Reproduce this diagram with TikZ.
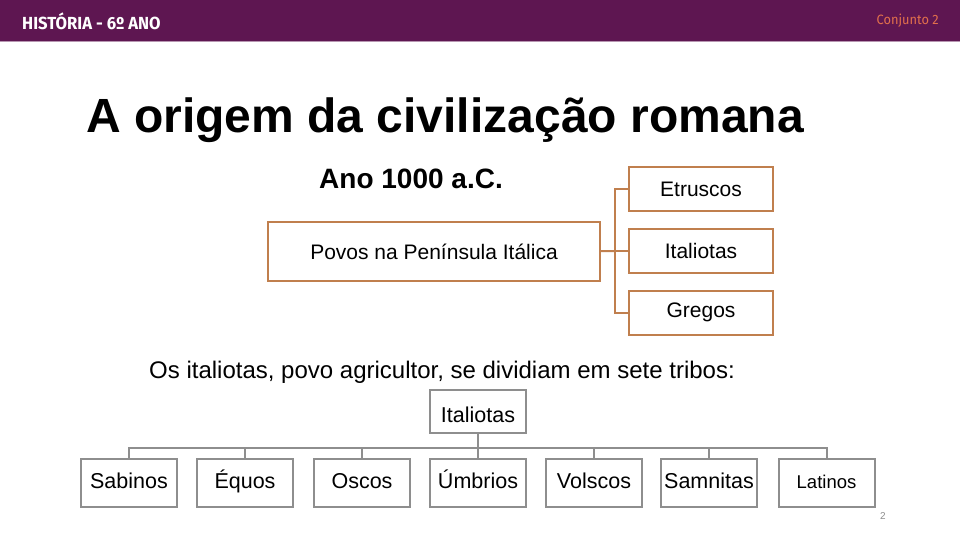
\documentclass[tikz,border=0pt]{standalone}
\usepackage{fontspec}
\setmainfont{Liberation Sans}
\newfontfamily\headfont[FakeStretch=0.95]{Fira Sans}
\definecolor{cabec}{HTML}{5E1651}
\definecolor{laranja}{HTML}{C07F4E}
\definecolor{cinza}{HTML}{8E8E8E}
\definecolor{conj}{HTML}{E2704C}
\begin{document}
\begin{tikzpicture}[x=1pt,y=-1pt]

        \useasboundingbox (0,0) rectangle (960,540);
        \fill[cabec] (0,0) rectangle (960,42);
        \draw[cabec!45!white, line width=1pt] (0,42) -- (960,42);

        \node[anchor=west, inner sep=0, text=white, font=\headfont\bfseries\fontsize{17.5}{17.5}\selectfont] (disc) at (22,21) {HISTÓRIA - 6º ANO};
        \node[anchor=east, inner sep=0, text=conj, font=\headfont\fontsize{13.5}{13.5}\selectfont] (conj) at (939,21) {Conjunto 2};
        \node[anchor=base west, inner sep=0, font=\bfseries\fontsize{48}{48}\selectfont] (titulo) at (86,133) {A origem da civilização romana};
        \node[anchor=base west, inner sep=0, font=\bfseries\fontsize{28}{28}\selectfont] (ano) at (319,189) {Ano 1000 a.C.};
        \node[anchor=base west, inner sep=0, font=\fontsize{24}{24}\selectfont] (frase) at (149,378) {Os italiotas, povo agricultor, se dividiam em sete tribos:};

        \begin{scope}[every node/.style={draw=laranja, line width=2pt, inner sep=0, minimum height=44pt, minimum width=144pt, font=\fontsize{21}{21}\selectfont}]
          \node[minimum width=332pt, minimum height=59pt] (povos) at (434,251.5) {Povos na Península Itálica};
          \node (etr) at (701,189)   {Etruscos};
          \node (ita) at (701,251)   {Italiotas};
          \node (gre) at (701,312.5) {Gregos};
        \end{scope}
        \coordinate (hub) at (615,251);

        \begin{scope}[every node/.style={draw=cinza, line width=2pt, inner sep=0, minimum height=48pt, minimum width=96pt, text height=15pt, text depth=4pt, font=\fontsize{21.5}{21.5}\selectfont}]
          \node[minimum height=43pt, text height=22pt, text depth=0pt] (italiotas) at (478,411.5) {Italiotas};
          \node (sab) at (129,483)   {Sabinos};
          \node (equ) at (245,483)   {Équos};
          \node (osc) at (362,483)   {Oscos};
          \node (umb) at (478,483)   {Úmbrios};
          \node (vol) at (594,483)   {Volscos};
          \node (sam) at (709,483)   {Samnitas};
          \node[font=\fontsize{18.5}{18.5}\selectfont] (lat) at (826.5,483) {Latinos};
        \end{scope}
        \coordinate (bus) at (478,448);

        \begin{scope}[draw=laranja, line width=2pt]
          \draw (povos) -- (hub);
          \draw (hub) |- (etr);
          \draw (hub) |- (ita);
          \draw (hub) |- (gre);
        \end{scope}

        \begin{scope}[draw=cinza, line width=2pt]
          \draw (italiotas) -- (bus);
          \draw (bus) -| (sab);
          \draw (bus) -| (equ);
          \draw (bus) -| (osc);
          \draw (bus) -| (umb);
          \draw (bus) -| (vol);
          \draw (bus) -| (sam);
          \draw (bus) -| (lat);
        \end{scope}

        \node[text=cinza, font=\fontsize{10}{10}\selectfont] (pag) at (883,516) {2};

      \end{tikzpicture}
\end{document}
